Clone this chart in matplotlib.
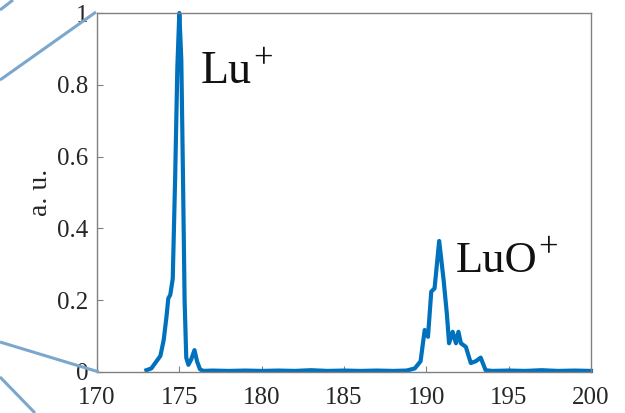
import matplotlib
matplotlib.use("Agg")
import matplotlib.pyplot as plt
from matplotlib.lines import Line2D

# Mass spectrum (m/z vs normalized intensity)
mz = [173.0, 173.3, 173.6, 173.85, 174.05, 174.22, 174.33, 174.45, 174.6, 174.75,
      174.88, 175.0, 175.12, 175.22, 175.32, 175.42, 175.55, 175.72, 175.92, 176.08,
      176.25, 176.45, 177.0, 178.0, 179.0, 180.0, 181.0, 182.0, 183.0, 184.0,
      185.0, 186.0, 187.0, 188.0, 188.8, 189.3, 189.65, 189.9, 190.1, 190.3,
      190.5, 190.78, 191.05, 191.25, 191.38, 191.6, 191.8, 191.95, 192.1, 192.4,
      192.7, 193.0, 193.3, 193.6, 194.0, 195.0, 196.0, 197.0, 198.0, 199.0, 200.0]
intensity = [0.005, 0.01, 0.029, 0.045, 0.089, 0.154, 0.205, 0.215, 0.26, 0.55,
             0.85, 1.0, 0.87, 0.55, 0.2, 0.04, 0.02, 0.035, 0.061, 0.029,
             0.008, 0.003, 0.004, 0.003, 0.004, 0.003, 0.004, 0.003, 0.005, 0.003,
             0.004, 0.003, 0.004, 0.003, 0.004, 0.01, 0.03, 0.117, 0.098, 0.224,
             0.233, 0.365, 0.256, 0.16, 0.08, 0.112, 0.08, 0.112, 0.08, 0.07,
             0.025, 0.03, 0.04, 0.005, 0.003, 0.004, 0.003, 0.005, 0.003, 0.004, 0.003]

xticks = [170, 175, 180, 185, 190, 195, 200]
yticks = [0, 0.2, 0.4, 0.6, 0.8, 1.0]
yticklabels = ["0", "0.2", "0.4", "0.6", "0.8", "1"]

fig = plt.figure(figsize=(6.25, 4.13), dpi=100)
ax = fig.add_axes([97/625, 1-372/413, (591-97)/625, (372-13)/413])

ax.plot(mz, intensity, color='#0072BD', lw=3.0, solid_joinstyle='round', clip_on=False)
ax.set_xlim(170, 200)
ax.set_ylim(0, 1)
ax.set_xticks(xticks)
ax.set_xticklabels([str(t) for t in xticks])
ax.set_yticks(yticks)
ax.set_yticklabels(yticklabels)

for s in ax.spines.values():
    s.set_color('#808080')
    s.set_linewidth(1.0)
ax.tick_params(direction='in', length=4, width=0.8, color='#808080',
               labelsize=18, labelcolor='#262626', top=False, right=False)
ax.tick_params(axis='x', pad=11)
ax.tick_params(axis='y', pad=6)
for lab in ax.get_xticklabels() + ax.get_yticklabels():
    lab.set_family('Liberation Serif')

ax.set_ylabel('a. u.', family='Liberation Serif', fontsize=20, color='#262626', labelpad=3)

ax.text(201/625, 1-83/413, 'Lu', transform=fig.transFigure,
        family='Liberation Serif', fontsize=33, color='#111111', va='baseline', ha='left')
ax.text(263/625, 1-60/413, '+', transform=fig.transFigure,
        family='Liberation Serif', fontsize=25, color='#111111', va='center', ha='center')
ax.text(456/625, 1-272/413, 'LuO', transform=fig.transFigure,
        family='Liberation Serif', fontsize=32, color='#111111', va='baseline', ha='left')
ax.text(548/625, 1-249/413, '+', transform=fig.transFigure,
        family='Liberation Serif', fontsize=25, color='#111111', va='center', ha='center')

# decorative slide lines
deco = '#7BA7CC'
segs = [((96, 12), (0, 80)), ((0, 10), (13, 0)), ((0, 342), (99, 372)), ((0, 377), (35, 413))]
for (x0, y0), (x1, y1) in segs:
    fig.add_artist(Line2D([x0/625, x1/625], [1-y0/413, 1-y1/413], transform=fig.transFigure,
                          color=deco, lw=2.2, solid_capstyle='butt'))

fig.savefig('out.png', dpi=100)
